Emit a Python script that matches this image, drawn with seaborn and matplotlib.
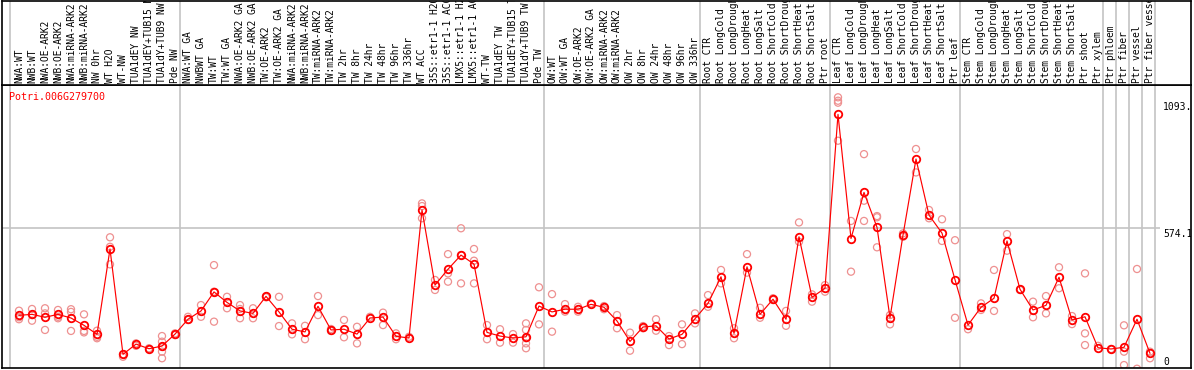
import numpy as np
import pandas as pd
import matplotlib
matplotlib.use("Agg")
import matplotlib.pyplot as plt
import seaborn as sns

gene = "Potri.006G279700"

samples = ["NWA:WT", "NWB:WT", "NWA:OE-ARK2", "NWB:OE-ARK2", "NWA:miRNA-ARK2", "NWB:miRNA-ARK2",
           "NW 0hr", "WT H2O", "WT-NW", "TUA1dEY NW", "TUA1dEY+TUB15 NW", "TUA1dY+TUB9 NW", "Pde NW",
           "NWA:WT GA", "NWBWT GA", "TW:WT", "TW:WT GA", "NWA:OE-ARK2 GA", "NWB:OE-ARK2 GA",
           "TW:OE-ARK2", "TW:OE-ARK2 GA", "NWA:miRNA-ARK2", "NWB:miRNA-ARK2", "TW:miRNA-ARK2",
           "TW:miRNA-ARK2", "TW 2hr", "TW 8hr", "TW 24hr", "TW 48hr", "TW 96hr", "TW 336hr", "WT ACC",
           "35S::etr1-1 H2O", "35S::etr1-1 ACC", "LMX5::etr1-1 H2O", "LMX5::etr1-1 ACC", "WT-TW",
           "TUA1dEY TW", "TUA1dEY+TUB15 TW", "TUA1dY+TUB9 TW", "Pde TW",
           "OW:WT", "OW:WT GA", "OW:OE-ARK2", "OW:OE-ARK2 GA", "OW:miRNA-ARK2", "OW:miRNA-ARK2",
           "OW 2hr", "OW 8hr", "OW 24hr", "OW 48hr", "OW 96hr", "OW 336hr",
           "Root CTR", "Root LongCold", "Root LongDrought", "Root LongHeat", "Root LongSalt",
           "Root ShortCold", "Root ShortDrought", "Root ShortHeat", "Root ShortSalt", "Ptr root",
           "Leaf CTR", "Leaf LongCold", "Leaf LongDrought", "Leaf LongHeat", "Leaf LongSalt",
           "Leaf ShortCold", "Leaf ShortDrought", "Leaf ShortHeat", "Leaf ShortSalt", "Ptr leaf",
           "Stem CTR", "Stem LongCold", "Stem LongDrought", "Stem LongHeat", "Stem LongSalt",
           "Stem ShortCold", "Stem ShortDrought", "Stem ShortHeat", "Stem ShortSalt", "Ptr shoot",
           "Ptr xylem", "Ptr phloem", "Ptr fiber", "Ptr vessel", "Ptr fiber vessel"]

means = [216, 220, 208, 220, 205, 175, 138, 488, 56, 98, 79, 90, 139,
         200, 234, 312, 269, 234, 224, 294, 230, 159, 148, 253, 156, 159, 139, 205, 209, 130, 123,
         648, 340, 405, 463, 426, 146, 131, 123, 128, 254,
         230, 241, 241, 261, 249, 193, 109, 168, 173, 119, 138, 202,
         265, 374, 142, 415, 220, 282, 200, 538, 290, 327,
         1040, 531, 720, 577, 206, 545, 857, 627, 553, 362,
         176, 249, 286, 521, 323, 238, 257, 372, 197, 210,
         83, 78, 85, 200, 60]

replicates = [[235, 208, 200], [242, 217, 194], [245, 224, 156], [238, 210, 204], [241, 230, 152],
              [220, 152, 146], [153, 128, 122], [536, 497, 425], [56, 46], [101, 91], [81, 77],
              [131, 108, 87, 67, 40], [142, 135],
              [210, 197], [258, 210], [422, 313, 190], [292, 245], [258, 242, 204], [245, 204],
              [294, 290], [292, 172], [183, 138], [173, 118], [295, 217], [160, 152], [197, 126],
              [169, 101], [210], [227, 176], [142, 118], [128],
              [675, 664, 614], [361, 320], [467, 388, 354], [573, 463, 347], [488, 440, 347],
              [176, 118], [159, 104], [139, 104], [183, 156, 122, 101, 81], [331, 179],
              [303, 149], [262, 231], [251, 231], [265], [254, 241], [217, 163], [145, 71],
              [172, 163], [200, 153], [131, 94], [179, 98], [224, 183],
              [299, 251], [402, 347], [163, 122], [467, 391], [247, 206], [286, 279], [234, 173],
              [597, 518], [302, 272], [340, 313],
              [1110, 1096, 1088, 932], [603, 395], [877, 686, 603], [623, 618, 495], [217, 179],
              [552, 538], [898, 802], [648, 614], [610, 521], [524, 206],
              [159], [265, 238], [402, 234], [549, 481], [320], [272, 208], [295, 224], [413, 327],
              [213, 180], [388, 142, 94],
              [91], [78], [175, 67, 12], [406, -3], [67, 40]]

ytick_values = [0, 574.1, 1093]
ytick_labels = ["0", "574.1", "1093."]
group_ends = [12, 40, 52, 62, 72, 83, 84, 85, 86, 87]

pos = np.arange(len(samples))
df_mean = pd.DataFrame({"pos": pos, "value": means})
rows = [(i, v) for i, reps in enumerate(replicates) for v in reps]
df_rep = pd.DataFrame(rows, columns=["pos", "value"])

sns.set_theme(style="white")
plt.rcParams["font.family"] = ["DejaVu Sans Mono"]

W, H = 1194, 370
fig = plt.figure(figsize=(W / 100, H / 100), dpi=100)
px_left, px_right = 2, 1191
ax = fig.add_axes([px_left / W, (H - 368) / H, (px_right - px_left) / W, 283 / H])
axh = fig.add_axes([px_left / W, (H - 85) / H, (px_right - px_left) / W, 84.5 / H], sharex=ax)

xl = ((px_left - 19) / 13, (px_right - 19) / 13)
ymax = 574.1 * 283 / 140
grid_c = "#c4c4c4"
pink = "#ee9090"

for a in (ax, axh):
    a.set_facecolor("white")
    a.set_xticks([])
    a.set_yticks([])
    a.set_xlabel("")
    a.set_ylabel("")
    for s in a.spines.values():
        s.set_color("black")
        s.set_linewidth(1.2)
    a.axvline(-0.69, color=grid_c, lw=1.2, zorder=0)
    for g in group_ends:
        a.axvline(g + 0.385, color=grid_c, lw=1.2, zorder=0)

ax.hlines(574.1, xl[0], (1160 - 19) / 13, color=grid_c, lw=1.2, zorder=0)

sns.scatterplot(data=df_rep, x="pos", y="value", ax=ax, marker="o", s=26,
                facecolor="none", edgecolor=pink, linewidth=0.9, zorder=2, legend=False)
sns.lineplot(data=df_mean, x="pos", y="value", ax=ax, color="#ff0000", lw=0.85,
             marker="o", markersize=5.4, markerfacecolor="none", markeredgecolor="#ff0000",
             markeredgewidth=1.3, zorder=3, legend=False)

ax.set_xlim(*xl)
ax.set_ylim(0, ymax)
ax.set_xlabel("")
ax.set_ylabel("")
axh.set_ylim(0, 1)

for v, lab in zip(ytick_values, ytick_labels):
    off = 6 if v == 0 else -5.5
    ax.annotate(lab, xy=(88.0, v), xytext=(0, off), textcoords="offset pixels",
                ha="left", va="center", fontsize=7, color="black", annotation_clip=False,
                clip_on=True)

ax.text((9 - px_left) / (px_right - px_left), (368 - 97) / 283, gene, transform=ax.transAxes,
        ha="left", va="center", fontsize=7.2, color="#ff0000")

for i, lab in enumerate(samples):
    axh.text(i, 2.0 / 85, lab, rotation=90, ha="center", va="bottom", fontsize=6.9,
             color="black", clip_on=True)

fig.savefig("out.png", dpi=100)
